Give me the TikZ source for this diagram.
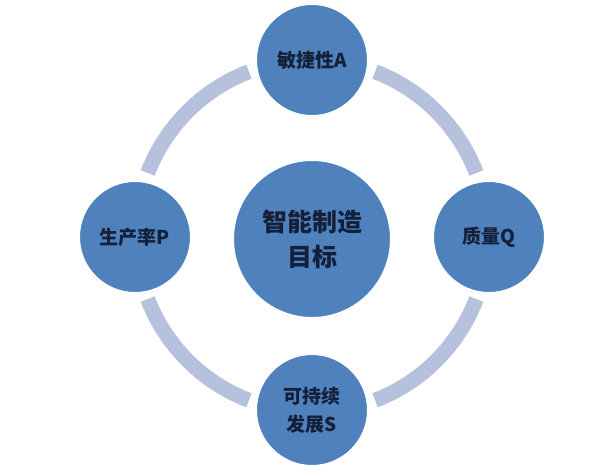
\documentclass[tikz,border=0pt]{standalone}
\usepackage{fontspec}
\usetikzlibrary{calc}
\newfontfamily\cjk{Noto Sans CJK SC}
\definecolor{ringc}{HTML}{B6C1DD}
\definecolor{circc}{HTML}{4F81BD}
\definecolor{txtc}{HTML}{14203A}
\tikzset{
  ringarc/.style={draw=ringc, line width=15pt, line cap=butt},
  goal/.style={circle, fill=circc, draw=white, line width=2pt, inner sep=0pt, text=txtc, font=\cjk\bfseries, align=center},
  small/.style={goal, minimum size=112pt, font=\cjk\bfseries\fontsize{19}{28}\selectfont},
  big/.style={goal, minimum size=158pt, font=\cjk\bfseries\fontsize{25}{35}\selectfont}
}
\begin{document}
\begin{tikzpicture}[x=1pt,y=-1pt]
\useasboundingbox (0,0) rectangle (600,476);
\fill[white] (0,0) rectangle (600,476);
\coordinate (o) at (312,236);
% ring arcs (angles measured with y downward => negate)
\foreach \a/\b in {111/159, 201/249, 291/339, 21/69} {
  \draw[ringarc] ($(o)+({176*cos(\a)},{-176*sin(\a)})$) arc[start angle=-\a, end angle=-\b, radius=176];
}
\node[big] (c) at (312,239) {智能制造\\目标};
\node[small] (a) at (312,60) {敏捷性A};
\node[small] (p) at (135,237) {生产率P};
\node[small] (q) at (489,237) {质量Q};
\node[small] (s) at (312,410) {可持续\\发展S};
\end{tikzpicture}
\end{document}
